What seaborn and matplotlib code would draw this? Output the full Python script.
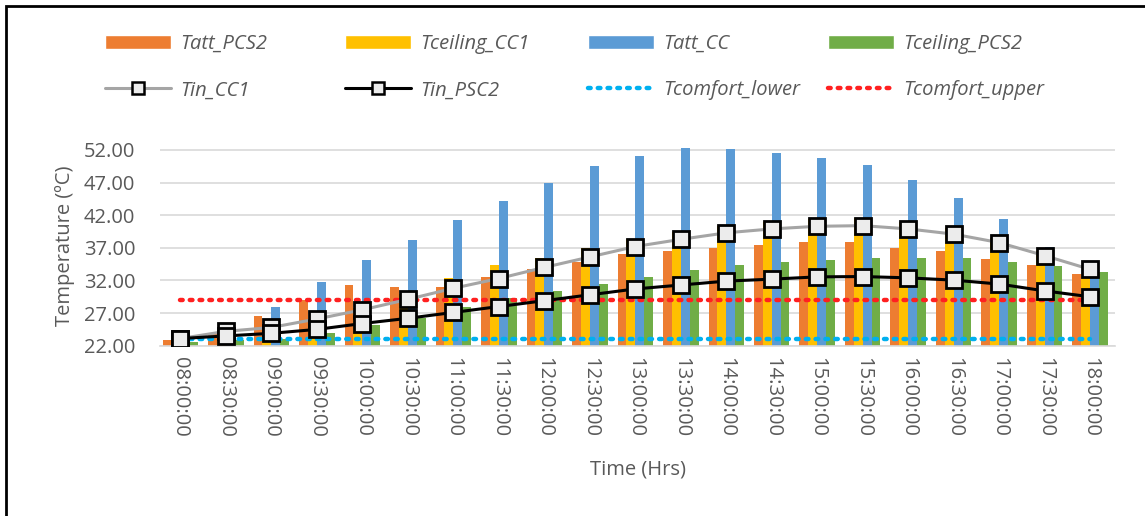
import numpy as np
import pandas as pd
import matplotlib
matplotlib.use("Agg")
import matplotlib.pyplot as plt
import seaborn as sns
from matplotlib.patches import Patch, Rectangle
from matplotlib.lines import Line2D

times = ["08:00:00", "08:30:00", "09:00:00", "09:30:00", "10:00:00", "10:30:00",
         "11:00:00", "11:30:00", "12:00:00", "12:30:00", "13:00:00", "13:30:00",
         "14:00:00", "14:30:00", "15:00:00", "15:30:00", "16:00:00", "16:30:00",
         "17:00:00", "17:30:00", "18:00:00"]

tatt_pcs2 = [22.8, 24.0, 26.5, 29.0, 31.3, 31.0, 31.0, 32.6, 33.8, 34.8, 36.0, 36.5,
             37.0, 37.4, 37.9, 37.9, 37.0, 36.5, 35.3, 34.3, 33.0]
tceiling_cc1 = [22.8, 23.3, 24.0, 25.5, 27.8, 30.0, 32.4, 34.3, 35.5, 36.9, 38.4, 39.5,
                40.4, 40.9, 41.4, 41.5, 40.9, 40.1, 38.5, 36.5, 33.0]
tatt_cc = [22.9, 24.6, 28.0, 31.7, 35.1, 38.2, 41.3, 44.1, 47.0, 49.5, 51.1, 52.3,
           52.1, 51.5, 50.8, 49.7, 47.4, 44.7, 41.4, 37.2, 33.2]
tceiling_pcs2 = [22.5, 22.8, 23.0, 23.9, 25.1, 26.3, 28.0, 29.3, 30.4, 31.5, 32.6, 33.6,
                 34.3, 34.8, 35.2, 35.5, 35.5, 35.4, 34.9, 34.2, 33.3]
tin_cc1 = [23.1, 24.2, 24.8, 26.1, 27.5, 29.1, 30.8, 32.3, 34.0, 35.6, 37.2, 38.3,
           39.3, 39.9, 40.3, 40.4, 39.9, 39.1, 37.8, 35.8, 33.7]
tin_psc2 = [23.1, 23.5, 23.9, 24.5, 25.4, 26.2, 27.1, 28.0, 28.9, 29.8, 30.7, 31.3,
            31.9, 32.2, 32.55, 32.6, 32.4, 32.05, 31.45, 30.4, 29.5]
tcomfort_lower = [23.1] * len(times)
tcomfort_upper = [29.0] * len(times)

bar_names = ["Tatt_PCS2", "Tceiling_CC1", "Tatt_CC", "Tceiling_PCS2"]
bar_colors = ["#ed7d31", "#ffc000", "#5b9bd5", "#70ad47"]
yticks = [22, 27, 32, 37, 42, 47, 52]

df = pd.DataFrame({
    "time": times * 4,
    "value": tatt_pcs2 + tceiling_cc1 + tatt_cc + tceiling_pcs2,
    "series": sum([[n] * len(times) for n in bar_names], []),
})

sns.set_theme(style="white")
plt.rcParams["font.family"] = ["Open Sans", "DejaVu Sans"]
txt = "#595959"

fig = plt.figure(figsize=(11.45, 5.16), dpi=100)
ax = fig.add_axes([0.14, 0.330, 0.834, 0.387])

base = 22.0
df["height"] = df["value"] - base
sns.barplot(data=df, x="time", y="height", hue="series", hue_order=bar_names,
            palette=bar_colors, width=0.78, bottom=base, ax=ax, legend=False,
            saturation=1, errorbar=None, linewidth=0)

xs = np.arange(len(times))
dot = (0, (0.6, 1.6))
ax.plot(xs, tcomfort_lower, linestyle=dot, dash_capstyle="round",
        color="#00b0f0", lw=3.2, zorder=3)
ax.plot(xs, tcomfort_upper, linestyle=dot, dash_capstyle="round",
        color="#ff2020", lw=3.2, zorder=3)
sns.lineplot(x=xs, y=tin_cc1, color="#a5a5a5", lw=2.2, marker="s", markersize=11,
             markerfacecolor="#ececec", markeredgecolor="black", markeredgewidth=2,
             ax=ax, zorder=4)
sns.lineplot(x=xs, y=tin_psc2, color="black", lw=2.2, marker="s", markersize=11,
             markerfacecolor="#ececec", markeredgecolor="black", markeredgewidth=2,
             ax=ax, zorder=5)

ax.set_ylim(22, 52.6)
ax.set_xlim(-0.44, 20.55)
ax.set_yticks(yticks)
ax.set_yticklabels([f"{v:.2f}" for v in yticks])
ax.yaxis.grid(True, color="#d9d9d9", lw=1.2)
ax.set_axisbelow(True)
for s in ["left", "right", "top"]:
    ax.spines[s].set_visible(False)
ax.spines["bottom"].set_color("#d9d9d9")
ax.spines["bottom"].set_linewidth(1.2)
ax.set_xticks(xs)
ax.set_xticklabels(times, rotation=-90)
ax.tick_params(axis="both", labelsize=14.5, colors=txt, length=0, pad=8)
ax.tick_params(axis="y", pad=18)
ax.set_xlabel("Time (Hrs)", fontsize=14.5, color=txt, labelpad=16)
ax.set_ylabel("Temperature (ºC)", fontsize=14.5, color=txt, labelpad=6)

h_bars = [Patch(facecolor=c, label=n) for n, c in zip(bar_names, bar_colors)]
h_lines = [
    Line2D([], [], color="#a5a5a5", lw=2.2, marker="s", markersize=9,
           markerfacecolor="#ececec", markeredgecolor="black", markeredgewidth=1.8,
           label="Tin_CC1"),
    Line2D([], [], color="black", lw=2.2, marker="s", markersize=9,
           markerfacecolor="#ececec", markeredgecolor="black", markeredgewidth=1.8,
           label="Tin_PSC2"),
    Line2D([], [], color="#00b0f0", lw=3.2, linestyle=dot,
           dash_capstyle="round", label="Tcomfort_lower"),
    Line2D([], [], color="#ff2020", lw=3.2, linestyle=dot,
           dash_capstyle="round", label="Tcomfort_upper"),
]
col_x = [105, 345, 588, 828]
for i in range(4):
    leg = fig.legend(handles=[h_bars[i], h_lines[i]], loc="upper left",
                     bbox_to_anchor=(col_x[i] / 1145, 0.934), frameon=False,
                     prop={"size": 14.5, "style": "italic"}, handlelength=3.3,
                     handleheight=0.75, handletextpad=0.45, borderpad=0,
                     borderaxespad=0, labelspacing=1.3)
    for t in leg.get_texts():
        t.set_color(txt)

fig.patches.append(Rectangle((6 / 1145, -0.1), 1.2, (516 - 6) / 516 + 0.1,
                             transform=fig.transFigure, fill=False,
                             edgecolor="black", lw=2))

fig.savefig("out.png", dpi=100)
